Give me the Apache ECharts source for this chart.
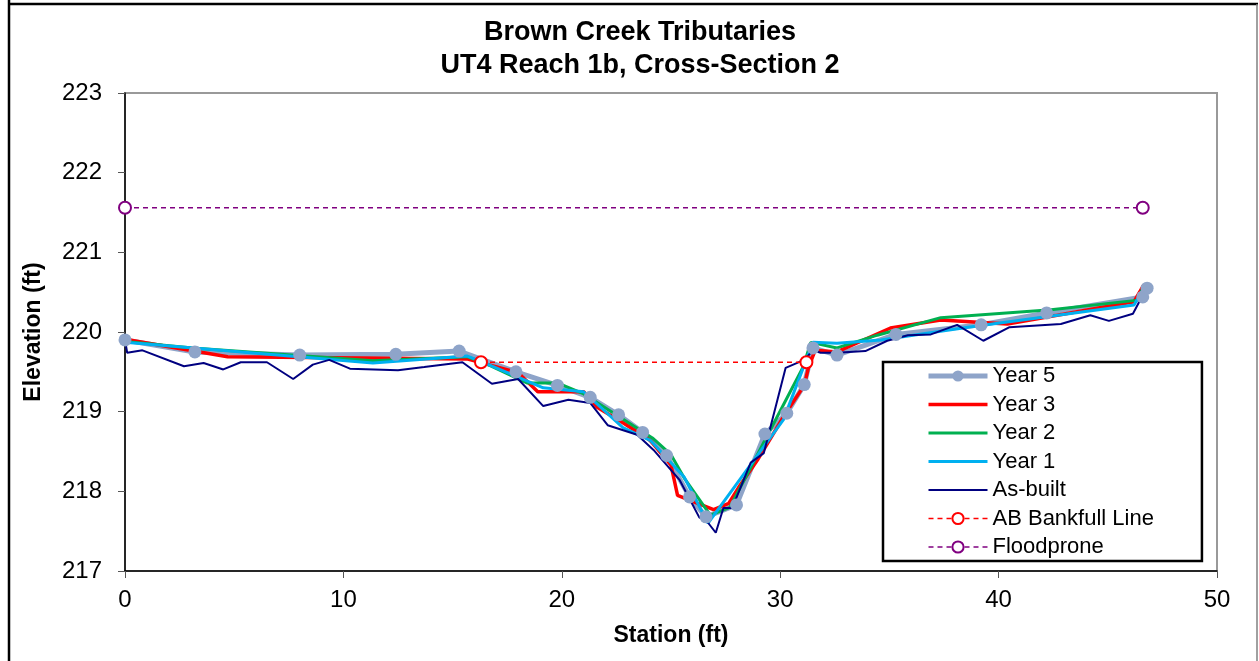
<!DOCTYPE html>
<html>
<head>
<meta charset="utf-8">
<script src="https://cdn.jsdelivr.net/npm/echarts@6/dist/echarts.min.js"></script>
<style>html,body{margin:0;padding:0;background:#fff;}#c{width:1259px;height:661px;}</style>
</head>
<body>
<div id="c"></div>
<script>
var titleLines = ['Brown Creek Tributaries', 'UT4 Reach 1b, Cross-Section 2'];
var xTicks = [0, 10, 20, 30, 40, 50];
var yTicks = [217, 218, 219, 220, 221, 222, 223];

var station5 = [0, 3.2, 8.0, 12.4, 15.3, 17.9, 19.8, 21.3, 22.6, 23.7, 24.8, 25.85, 26.6, 28.0, 29.3, 30.3, 31.1, 31.5, 32.6, 35.3, 39.2, 42.2, 46.6, 46.8];
var elev5 = [219.90, 219.75, 219.71, 219.72, 219.76, 219.50, 219.33, 219.18, 218.96, 218.74, 218.45, 217.93, 217.68, 217.83, 218.72, 218.98, 219.34, 219.80, 219.71, 219.97, 220.09, 220.24, 220.44, 220.55];

var station3 = [0, 4.7, 15.7, 18.0, 18.9, 21.0, 21.6, 22.8, 24.05, 25.0, 25.3, 26.95, 27.65, 28.1, 28.95, 30.25, 31.1, 31.3, 31.6, 32.6, 35.05, 37.35, 40.4, 46.2, 46.65];
var elev3 = [219.91, 219.69, 219.66, 219.49, 219.25, 219.25, 219.06, 218.86, 218.64, 218.33, 217.95, 217.77, 217.85, 218.05, 218.39, 218.98, 219.33, 219.56, 219.77, 219.75, 220.05, 220.15, 220.10, 220.38, 220.59];

var station2 = [0, 3.1, 11.35, 15.65, 16.4, 18.4, 19.8, 20.95, 24.15, 25.0, 25.6, 26.8, 27.7, 31.05, 31.4, 32.6, 34.45, 37.35, 42.4, 46.4, 46.65];
var elev2 = [219.88, 219.80, 219.64, 219.69, 219.62, 219.36, 219.36, 219.23, 218.67, 218.46, 218.17, 217.70, 217.80, 219.56, 219.87, 219.80, 219.96, 220.18, 220.28, 220.40, 220.59];

var station1 = [0, 11.35, 15.65, 16.4, 19.15, 21.0, 22.8, 24.05, 25.6, 26.7, 30.15, 31.5, 32.6, 34.6, 38.6, 46.2, 46.65];
var elev1 = [219.87, 219.61, 219.70, 219.62, 219.30, 219.25, 218.80, 218.64, 218.18, 217.60, 218.90, 219.87, 219.86, 219.90, 220.06, 220.34, 220.55];

var stationAB = [0, 0.1, 0.8, 2.7, 3.6, 4.5, 5.3, 6.5, 7.7, 8.6, 9.35, 10.3, 12.5, 13.7, 15.45, 16.8, 18.0, 19.15, 20.3, 21.3, 22.1, 23.45, 24.2, 25.4, 26.3, 26.6, 27.05, 27.4, 27.8, 28.65, 29.25, 30.25, 31.1, 31.5, 31.85, 32.6, 33.9, 34.9, 35.85, 36.9, 38.1, 39.3, 40.5, 42.85, 44.2, 45.05, 46.15, 46.75];
var elevAB = [219.90, 219.74, 219.77, 219.57, 219.61, 219.53, 219.62, 219.62, 219.41, 219.59, 219.65, 219.54, 219.52, 219.56, 219.62, 219.35, 219.41, 219.07, 219.15, 219.11, 218.83, 218.71, 218.52, 218.14, 217.67, 217.64, 217.48, 217.79, 217.79, 218.36, 218.48, 219.55, 219.65, 219.77, 219.74, 219.74, 219.76, 219.89, 219.96, 219.97, 220.09, 219.89, 220.06, 220.10, 220.21, 220.14, 220.23, 220.54];

var stationBankfull = [16.3, 31.2];
var elevBankfull = [219.62, 219.62];
var stationFlood = [0, 46.6];
var elevFlood = [221.56, 221.56];

function zip(xs, ys) { return xs.map(function (x, i) { return [x, ys[i]]; }); }

var FONT = '"Liberation Sans", Arial, sans-serif';
var barIcon = function (h) { return 'path://M0,0L60,0L60,' + h + 'L0,' + h + 'Z'; };
var chart = echarts.init(document.getElementById('c'));
chart.setOption({
  animation: false,
  backgroundColor: '#fff',
  textStyle: { fontFamily: FONT },
  graphic: [
    { type: 'line', shape: { x1: 9, y1: 0, x2: 9, y2: 661 }, style: { stroke: '#000', lineWidth: 2.5 }, z: 100 },
    { type: 'line', shape: { x1: 8, y1: 4, x2: 1258, y2: 4 }, style: { stroke: '#000', lineWidth: 2.5 }, z: 100 },
    { type: 'line', shape: { x1: 1257, y1: 4, x2: 1257, y2: 661 }, style: { stroke: '#808080', lineWidth: 1.5 }, z: 100 },
    { type: 'text', x: 640, y: 33, style: { text: titleLines[0], font: 'bold 27px ' + FONT, fill: '#000', textAlign: 'center', textVerticalAlign: 'middle' } },
    { type: 'text', x: 640, y: 66, style: { text: titleLines[1], font: 'bold 27px ' + FONT, fill: '#000', textAlign: 'center', textVerticalAlign: 'middle' } }
  ],
  grid: { left: 125, top: 93, right: 42, bottom: 90, show: true, borderColor: '#999', borderWidth: 2, backgroundColor: '#fff' },
  legend: {
    orient: 'vertical', left: 883, top: 362,
    padding: [3, 48, 3, 43],
    itemWidth: 59, itemHeight: 14, itemGap: 6.5,
    symbolKeepAspect: true,
    backgroundColor: '#fff', borderColor: '#000', borderWidth: 2.5, borderRadius: 0,
    textStyle: { fontSize: 22, lineHeight: 22, color: '#000', fontFamily: FONT },
    data: [
      { name: 'Year 5', lineStyle: { width: 5 } },
      { name: 'Year 3', icon: barIcon(3.5) },
      { name: 'Year 2', icon: barIcon(3) },
      { name: 'Year 1', icon: barIcon(3) },
      { name: 'As-built', icon: barIcon(2.2) },
      { name: 'AB Bankfull Line', lineStyle: { width: 1.5 } },
      { name: 'Floodprone', lineStyle: { width: 1.5 } }
    ]
  },
  xAxis: {
    type: 'value', min: 0, max: 50, interval: 10,
    name: 'Station (ft)', nameLocation: 'middle', nameGap: 53,
    nameTextStyle: { fontSize: 23, fontWeight: 'bold', color: '#000', fontFamily: FONT },
    axisLine: { show: true, lineStyle: { color: '#000', width: 1.5 } },
    axisTick: { show: true, inside: false, length: 7, lineStyle: { color: '#555' } },
    axisLabel: { fontSize: 24, color: '#000', margin: 17, fontFamily: FONT,
      formatter: function (v) { return xTicks.indexOf(v) >= 0 ? String(v) : ''; } },
    splitLine: { show: false }
  },
  yAxis: {
    type: 'value', min: 217, max: 223, interval: 1,
    name: 'Elevation (ft)', nameLocation: 'middle', nameGap: 80,
    nameTextStyle: { fontSize: 23, fontWeight: 'bold', color: '#000', fontFamily: FONT },
    axisLine: { show: true, lineStyle: { color: '#000', width: 1.5 } },
    axisTick: { show: true, inside: false, length: 7, lineStyle: { color: '#555' } },
    axisLabel: { fontSize: 24, color: '#000', margin: 23, fontFamily: FONT,
      formatter: function (v) { return yTicks.indexOf(v) >= 0 ? String(v) : ''; } },
    splitLine: { show: false }
  },
  series: [
    { name: 'Year 5', type: 'line', data: zip(station5, elev5), symbol: 'circle', symbolSize: 13,
      lineStyle: { color: '#8ea4c9', width: 5 }, itemStyle: { color: '#8ea4c9' } },
    { name: 'Year 3', type: 'line', data: zip(station3, elev3), symbol: 'none', showSymbol: false,
      lineStyle: { color: '#ff0000', width: 3.5 }, itemStyle: { color: '#ff0000' } },
    { name: 'Year 2', type: 'line', data: zip(station2, elev2), symbol: 'none', showSymbol: false,
      lineStyle: { color: '#00b050', width: 3 }, itemStyle: { color: '#00b050' } },
    { name: 'Year 1', type: 'line', data: zip(station1, elev1), symbol: 'none', showSymbol: false,
      lineStyle: { color: '#00b0f0', width: 3 }, itemStyle: { color: '#00b0f0' } },
    { name: 'As-built', type: 'line', data: zip(stationAB, elevAB), symbol: 'none', showSymbol: false,
      lineStyle: { color: '#000080', width: 2 }, itemStyle: { color: '#000080' } },
    { name: 'AB Bankfull Line', type: 'line', data: zip(stationBankfull, elevBankfull), symbol: 'emptyCircle', symbolSize: 12,
      lineStyle: { color: '#ff0000', width: 1.5, type: [5, 4] }, itemStyle: { color: '#ff0000', borderWidth: 1.5 } },
    { name: 'Floodprone', type: 'line', data: zip(stationFlood, elevFlood), symbol: 'emptyCircle', symbolSize: 12,
      lineStyle: { color: '#800080', width: 1.5, type: [5, 4] }, itemStyle: { color: '#800080', borderWidth: 1.5 } }
  ]
});
</script>
</body>
</html>
